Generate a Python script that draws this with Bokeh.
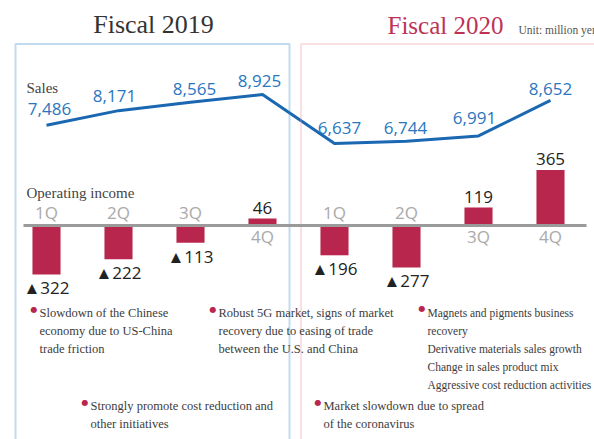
from bokeh.plotting import figure
from bokeh.models import Range1d, ColumnDataSource, Label, BoxAnnotation
from bokeh.core.properties import value
from bokeh.embed import file_html
from bokeh.resources import INLINE

# ---------------- data ----------------
quarters = ["1Q", "2Q", "3Q", "4Q", "1Q", "2Q", "3Q", "4Q"]
sales = [7486, 8171, 8565, 8925, 6637, 6744, 6991, 8652]
operating_income = [-322, -222, -113, 46, -196, -277, 119, 365]
fiscal_years = ["Fiscal 2019", "Fiscal 2020"]
notes_2019_a = ["Slowdown of the Chinese", "economy due to US-China", "trade friction"]
notes_2019_b = ["Strongly promote cost reduction and", "other initiatives"]
notes_2020_a = ["Robust 5G market, signs of market", "recovery due to easing of trade",
                "between the U.S. and China"]
notes_2020_b = ["Market slowdown due to spread", "of the coronavirus"]
notes_2020_c = ["Magnets and pigments business", "recovery", "Derivative materials sales growth",
                "Change in sales product mix", "Aggressive cost reduction activities"]

# ---------------- styles ----------------
SANS = "Open Sans"
SERIF = "Liberation Serif"
LINE_BLUE = "#1a67b2"
LABEL_BLUE = "#2a77c0"
CRIMSON = "#b8264d"
GREY_Q = "#a9a9a9"
NOTE_C = "#3c3c3c"
FIX = 0.33          # empirical baseline correction (fraction of font size)
NUM = 17            # number font size, px
sales_dx = [3, -4, 4, -3, 5, -1, -4, 0]
sales_dy = [11, 9, 8, 8, 10, 8, 12, 6]

W, H = 594, 439
idx = list(range(len(quarters)))

p = figure(width=W, height=H, output_backend="svg", toolbar_location=None,
           x_range=Range1d(-46 / 72, (W - 46) / 72),
           y_range=Range1d(-1407.9, 1480.3),
           x_axis_location=None, y_axis_location=None,
           min_border=0, outline_line_color=None,
           background_fill_color="white", border_fill_color="white")
p.grid.grid_line_color = None
p.extra_y_ranges = {"sales": Range1d(-7184.4, 13314.3)}


def box(l, r, t, b, **kw):
    p.add_layout(BoxAnnotation(left=l, right=r, top=H - t, bottom=H - b,
                               left_units="screen", right_units="screen",
                               top_units="screen", bottom_units="screen", **kw))


# panel frames
box(15, 289, 43.5, 480, fill_alpha=0, line_color="#3483c8", line_width=2)
box(300.5, 800, 43.5, 480, fill_alpha=0, line_color="#f299a3", line_width=2)

# operating income bars
fix = FIX * NUM
src = ColumnDataSource(dict(
    x=idx, oi=operating_income, q=quarters,
    oi_text=[("▲" + str(abs(v))) if v < 0 else str(v) for v in operating_income],
    oi_off=[(19 if v < 0 else -5) - fix for v in operating_income],
    q_off=[(-7 if v < 0 else 17) - fix for v in operating_income],
    zero=[0] * len(idx),
))
p.vbar(x="x", top="oi", bottom=0, width=0.39, source=src,
       fill_color=CRIMSON, line_color=None)

# zero line
p.add_layout(BoxAnnotation(left=23, right=586, top=10, bottom=-10,
                           left_units="screen", right_units="screen",
                           fill_color="#9a9a9a", fill_alpha=1, line_color=None))

p.text(x="x", y="zero", text="q", y_offset="q_off", source=src,
       text_font=value(SANS), text_font_size=f"{NUM}px", text_color=GREY_Q,
       text_align="center", text_baseline="alphabetic")
p.text(x="x", y="oi", text="oi_text", y_offset="oi_off", source=src,
       text_font=value(SANS), text_font_size=f"{NUM}px", text_color="#222222",
       text_align="center", text_baseline="alphabetic")

# sales line
ssrc = ColumnDataSource(dict(
    x=idx, s=sales, s_text=[f"{v:,}" for v in sales],
    dx=sales_dx, dy=[-d - fix for d in sales_dy],
))
p.line(x="x", y="s", source=ssrc, y_range_name="sales",
       line_color=LINE_BLUE, line_width=3)
p.text(x="x", y="s", text="s_text", x_offset="dx", y_offset="dy", source=ssrc,
       y_range_name="sales", text_font=value(SANS), text_font_size=f"{NUM}px",
       text_color=LABEL_BLUE, text_align="center", text_baseline="alphabetic")


def lab(x, y, text, size, color, font=SERIF, align="left", baseline="alphabetic"):
    # x, y in picture pixels (top-left origin); size in px
    p.add_layout(Label(x=x, y=H - y + FIX * size, x_units="screen", y_units="screen",
                       text=text, text_font=font, text_font_size=f"{size}px",
                       text_color=color, text_align=align,
                       text_baseline=baseline))


# titles
lab(153, 33, fiscal_years[0], 26, "#333333", align="center")
lab(445, 33, fiscal_years[1], 25, "#be3256", align="center")
lab(518, 33, "Unit: million yen", 11.5, "#555555")
lab(26, 92, "Sales", 15, "#444444")
lab(26, 197, "Operating income", 15, "#444444")


def note(x, y, lines, size=12.5):
    lab(x - 5.5, y - 5.5, "●", 8, CRIMSON, font="DejaVu Sans",
        align="center", baseline="middle")
    for k, t in enumerate(lines):
        lab(x, y + 18 * k, t, size, NOTE_C)


note(39, 317, notes_2019_a)
note(218, 317, notes_2020_a)
note(90, 410, notes_2019_b)
note(427, 316, notes_2020_c, 11.5)
note(323, 410, notes_2020_b)

open("out.html", "w").write(file_html(p, INLINE))
